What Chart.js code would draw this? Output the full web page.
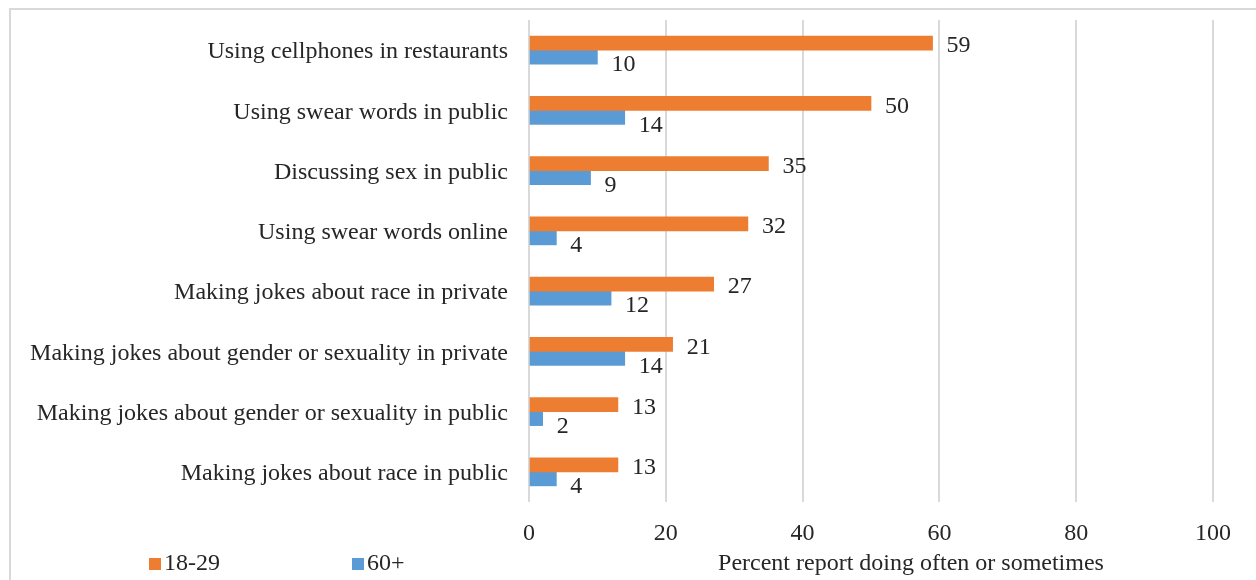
<!DOCTYPE html>
<html>
<head>
<meta charset="utf-8">
<script src="https://cdn.jsdelivr.net/npm/chart.js@4.4.1/dist/chart.umd.min.js"></script>
<style>
  html, body { margin: 0; padding: 0; background: #fff; overflow: hidden; }
  #wrap { width: 1256px; height: 580px; position: relative; }
</style>
</head>
<body>
<div id="wrap"><canvas id="graphique" width="1256" height="580"></canvas></div>
<script>
// Behaviours, top to bottom
const comportements = [
    "Using cellphones in restaurants",
    "Using swear words in public",
    "Discussing sex in public",
    "Using swear words online",
    "Making jokes about race in private",
    "Making jokes about gender or sexuality in private",
    "Making jokes about gender or sexuality in public",
    "Making jokes about race in public"
];
const valeurs1829 = [59, 50, 35, 32, 27, 21, 13, 13];
const valeurs60 = [10, 14, 9, 4, 12, 14, 2, 4];
const groupes = ["18-29", "60+"];
const couleurs = ["#ED7D31", "#5B9BD5"];
const titreAxe = "Percent report doing often or sometimes";

const police = "'Liberation Serif', serif";
const couleurTexte = "#262626";

// Cadre, légende et titre de l'axe
const decorPlugin = {
    id: 'decor',
    beforeDraw(chart) {
        const ctx = chart.ctx;
        ctx.save();
        ctx.strokeStyle = '#d9d9d9';
        ctx.lineWidth = 2;
        ctx.strokeRect(10, 9, 1260, 600);
        ctx.restore();
    },
    afterDraw(chart) {
        const ctx = chart.ctx;
        ctx.save();
        ctx.font = `24px ${police}`;
        ctx.fillStyle = couleurTexte;
        ctx.textBaseline = 'middle';
        const yLegende = 564;
        const xLegende = [149, 352];
        groupes.forEach((g, i) => {
            ctx.fillStyle = couleurs[i];
            ctx.fillRect(xLegende[i], yLegende - 6, 12, 12);
            ctx.fillStyle = couleurTexte;
            ctx.textAlign = 'left';
            ctx.fillText(g, xLegende[i] + 15, yLegende);
        });
        ctx.textAlign = 'center';
        ctx.fillText(titreAxe, 911, yLegende);
        ctx.restore();
    }
};

// Valeurs affichées au bout des barres
const etiquettesPlugin = {
    id: 'etiquettes',
    afterDatasetsDraw(chart) {
        const ctx = chart.ctx;
        ctx.save();
        ctx.font = `24px ${police}`;
        ctx.fillStyle = couleurTexte;
        ctx.textAlign = 'left';
        ctx.textBaseline = 'middle';
        chart.data.datasets.forEach((ds, di) => {
            const meta = chart.getDatasetMeta(di);
            meta.data.forEach((barre, i) => {
                const decalage = di === 1 ? 8 : 3;
                ctx.fillText(ds.data[i], barre.x + 14, barre.y + decalage);
            });
        });
        ctx.restore();
    }
};

const ctx = document.getElementById('graphique').getContext('2d');
const myChart = new Chart(ctx, {
    type: 'bar',
    data: {
        labels: comportements,
        datasets: [{
            label: groupes[0],
            data: valeurs1829,
            backgroundColor: couleurs[0],
            barThickness: 14
        }, {
            label: groupes[1],
            data: valeurs60,
            backgroundColor: couleurs[1],
            barThickness: 14
        }]
    },
    options: {
        indexAxis: 'y',
        responsive: false,
        animation: false,
        devicePixelRatio: 1,
        layout: { padding: { left: 0, right: 43, top: 20, bottom: 0 } },
        scales: {
            x: {
                min: 0,
                max: 100,
                ticks: {
                    stepSize: 20,
                    padding: 17,
                    color: couleurTexte,
                    font: { family: police, size: 24 }
                },
                grid: { color: '#d9d9d9', lineWidth: 2, tickLength: 0 },
                border: { display: false },
                afterFit: function (scale) { scale.height = 78; }
            },
            y: {
                ticks: {
                    padding: 13,
                    labelOffset: 2,
                    color: couleurTexte,
                    font: { family: police, size: 24 }
                },
                grid: { display: false },
                border: { display: false },
                afterFit: function (scale) {
                    scale.width = 529;
                    scale.paddingTop = 0;
                    scale.paddingBottom = 0;
                }
            }
        },
        plugins: {
            legend: { display: false },
            tooltip: { enabled: false }
        }
    },
    plugins: [decorPlugin, etiquettesPlugin]
});
</script>
</body>
</html>
